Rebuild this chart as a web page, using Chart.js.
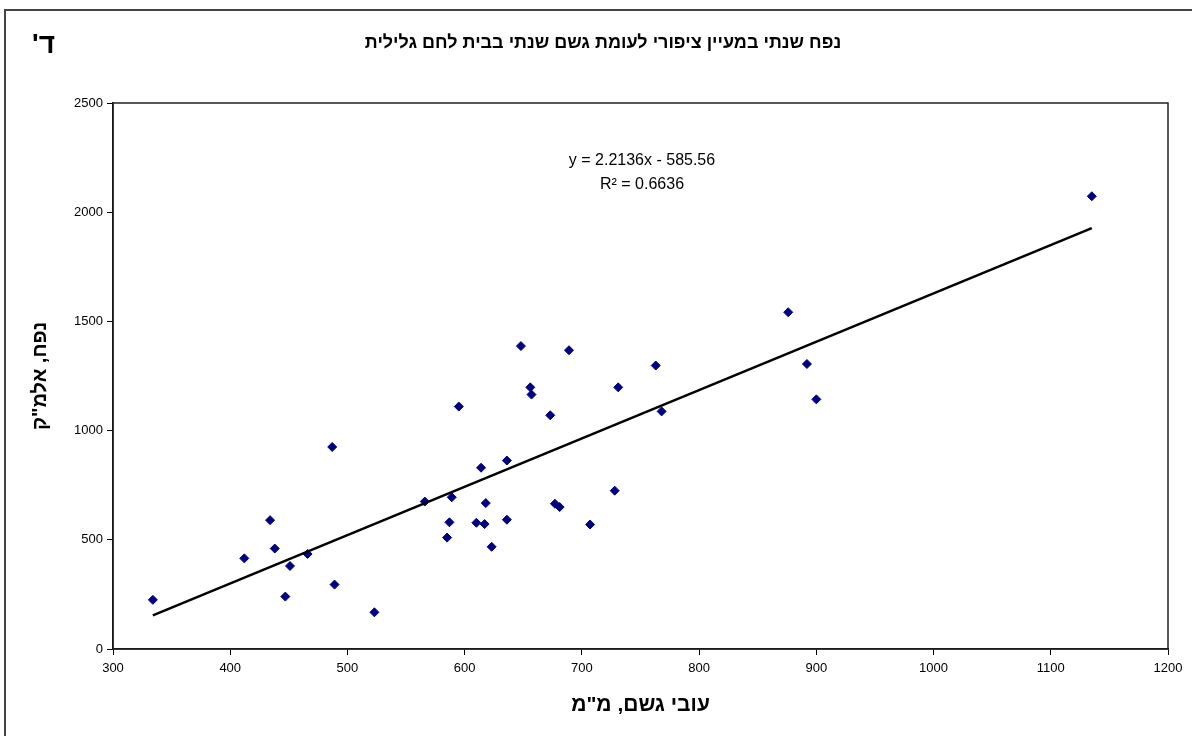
<!DOCTYPE html>
<html>
<head>
<meta charset="utf-8">
<script src="https://cdn.jsdelivr.net/npm/chart.js@4"></script>
<style>
  html, body { margin: 0; padding: 0; background: #fff; }
  #wrap { width: 1192px; height: 736px; position: relative; }
</style>
</head>
<body>
<div id="wrap"><canvas id="springChart" width="1192" height="736"></canvas></div>
<script>
// annual rainfall (mm) vs. annual spring volume (thousand m3)
const rainMm = [334, 412, 434, 438, 447, 451, 466, 487, 489, 523, 566, 585, 587, 589, 595, 610, 614, 617, 618, 623,
                636, 636, 648, 656, 657, 673, 677, 681, 689, 707, 728, 731, 763, 768, 876, 892, 900, 1135];
const volume = [225, 415, 590, 460, 240, 380, 435, 925, 295, 168, 675, 510, 580, 695, 1110, 578, 830, 572, 668, 468,
                592, 863, 1387, 1198, 1165, 1070, 665, 650, 1368, 570, 725, 1198, 1298, 1088, 1542, 1305, 1143, 2073];

// trend line as printed on the chart
const slope = 2.2136;
const intercept = -585.56;
const rSquared = '0.6636';

const chartTitle = 'נפח שנתי במעיין ציפורי לעומת גשם שנתי בבית לחם גלילית';
const panelLabel = "ד'";

const xMin = Math.min(...rainMm);
const xMax = Math.max(...rainMm);

const points = rainMm.map((x, i) => ({ x: x, y: volume[i] }));
const trend = [xMin, xMax].map(x => ({ x: x, y: slope * x + intercept }));

const FONT = '"Liberation Sans", Arial, "DejaVu Sans", sans-serif';

// page frame, plot border, title, corner label and the equation
const extras = {
    id: 'extras',
    beforeDraw(chart) {
        const ctx = chart.ctx;
        ctx.save();
        ctx.strokeStyle = '#444';
        ctx.lineWidth = 2;
        ctx.beginPath();
        ctx.moveTo(5, 736);
        ctx.lineTo(5, 10);
        ctx.lineTo(1192, 10);
        ctx.stroke();
        ctx.restore();
    },
    afterDatasetsDraw(chart) {
        const ctx = chart.ctx;
        const a = chart.chartArea;
        ctx.save();
        ctx.strokeStyle = '#222';
        ctx.lineWidth = 1.5;
        ctx.strokeRect(a.left, a.top, a.right - a.left, a.bottom - a.top);

        ctx.fillStyle = '#000';
        ctx.textBaseline = 'middle';
        ctx.direction = 'rtl';
        ctx.textAlign = 'center';
        ctx.font = 'bold 18px ' + FONT;
        ctx.fillText(chartTitle, 603, 43);

        // RLM keeps the geresh on the left of the letter
        ctx.font = 'bold 28px ' + FONT;
        ctx.textAlign = 'left';
        ctx.fillText(panelLabel + '\u200F', 32, 45);

        ctx.direction = 'ltr';
        ctx.font = '16px ' + FONT;
        ctx.textAlign = 'center';
        ctx.fillText('y = ' + slope + 'x - ' + Math.abs(intercept), 642, 161);
        ctx.fillText('R² = ' + rSquared, 642, 185);
        ctx.restore();
    }
};

const ctx = document.getElementById('springChart').getContext('2d');
const springChart = new Chart(ctx, {
    type: 'scatter',
    data: {
        datasets: [{
            label: 'trend',
            type: 'line',
            data: trend,
            borderColor: '#000',
            borderWidth: 2.5,
            pointRadius: 0,
            fill: false,
            order: 0
        }, {
            label: 'points',
            data: points,
            pointStyle: 'rectRot',
            pointRadius: 4.5,
            pointBackgroundColor: '#000080',
            pointBorderColor: '#000080',
            order: 1
        }]
    },
    options: {
        responsive: false,
        animation: false,
        layout: { padding: { left: 0, top: 103, right: 24, bottom: 0 } },
        plugins: {
            legend: { display: false },
            tooltip: { enabled: false },
            title: { display: false }
        },
        scales: {
            x: {
                type: 'linear',
                min: 300,
                max: 1200,
                afterFit(scale) { scale.height = 87; },
                ticks: {
                    stepSize: 100, color: '#000', padding: 6,
                    font: { family: FONT, size: 13 },
                    callback: v => String(v)
                },
                grid: { display: true, drawOnChartArea: false, drawTicks: true, tickLength: 6, color: '#000' },
                border: { display: true, color: '#000', width: 1.5 },
                title: {
                    display: true,
                    text: 'עובי גשם, מ"מ',
                    color: '#000',
                    font: { family: FONT, size: 21, weight: 'bold' },
                    padding: { top: 0, bottom: 18 }
                }
            },
            y: {
                min: 0,
                max: 2500,
                afterFit(scale) { scale.width = 113; },
                ticks: {
                    stepSize: 500, color: '#000', padding: 4,
                    font: { family: FONT, size: 13 },
                    callback: v => String(v)
                },
                grid: { display: true, drawOnChartArea: false, drawTicks: true, tickLength: 6, color: '#000' },
                border: { display: true, color: '#000', width: 1.5 },
                title: {
                    display: true,
                    text: 'נפח, אלמ"ק',
                    color: '#000',
                    font: { family: FONT, size: 20, weight: 'bold' },
                    padding: { top: 28, bottom: 0 }
                }
            }
        }
    },
    plugins: [extras]
});
</script>
</body>
</html>
